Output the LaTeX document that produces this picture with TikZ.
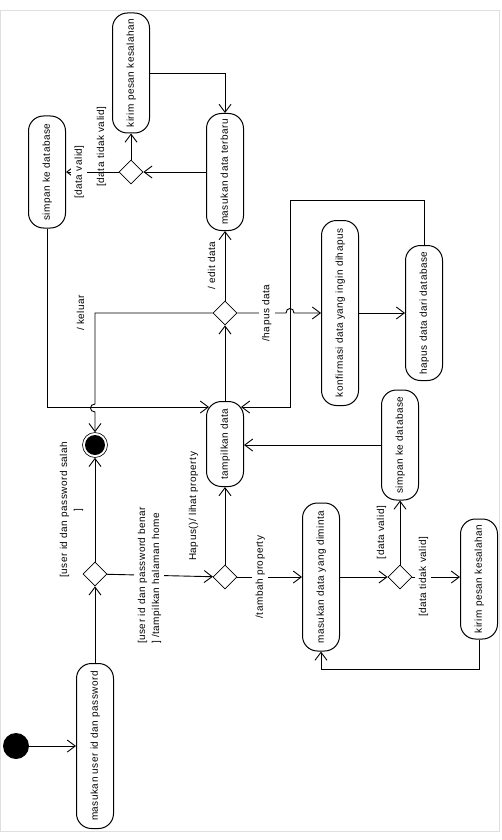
\documentclass[tikz,border=0pt]{standalone}
\usepackage{fontspec}
\setmainfont{Liberation Sans}[LetterSpace=5]
\usepackage{graphicx}
\usetikzlibrary{shapes.geometric, arrows.meta, calc}

\newcommand{\vtext}[1]{\rotatebox{90}{\begin{tabular}{@{}c@{}}#1\end{tabular}}}
\newcommand{\vtextl}[1]{\rotatebox{90}{\begin{tabular}{@{}l@{}}#1\end{tabular}}}

\begin{document}
\begin{tikzpicture}[x=1pt, y=-1pt, font=\fontsize{10}{14}\selectfont]
    % Styles
    \tikzstyle{act} = [rectangle, draw, line width=1pt, rounded corners=15pt, minimum width=37pt, inner sep=0pt]
    \tikzstyle{decision} = [diamond, draw, line width=0.8pt, minimum width=24pt, minimum height=24pt, inner sep=0pt]
    \tikzstyle{flow} = [draw, line width=0.9pt, -{Straight Barb[length=8pt,width=12pt]}]
    \tikzstyle{guard} = [fill=white, inner sep=1pt]

    \useasboundingbox (0,0) rectangle (501,840);
    \draw [gray!25, line width=0.6pt] (0,10) rectangle (499,831);

    % --- LOGIN ---
    \node [circle, fill=black, minimum size=26pt, inner sep=0pt] (start) at (16,746) {};
    \node [act, minimum height=165pt] (login) at (95,746) {\vtext{masukan user id dan password}};
    \node [decision] (cek) at (95,574) {};
    \node [circle, draw, line width=0.6pt, minimum size=25pt, inner sep=0pt] (stop) at (95,445) {};
    \fill (stop.center) circle (10pt);

    % --- MENU ---
    \node [act, minimum height=85pt] (tampil) at (225,444) {\vtext{tampilkan data}};
    \node [decision] (pilih) at (225,577) {};
    \node [decision] (kelola) at (225,313) {};
    \node [act, minimum height=117pt] (edit) at (225,172) {\vtext{masukan data terbaru}};

    % --- TAMBAH PROPERTY ---
    \node [act, minimum height=148pt] (minta) at (321,577) {\vtext{masukan data yang diminta}};
    \node [decision] (cekTambah) at (400,577) {};
    \node [act, minimum height=110pt] (simpanB) at (400,445) {\vtext{simpan ke database}};
    \node [act, minimum height=120pt] (errB) at (479,579) {\vtext{kirim pesan kesalahan}};

    % --- EDIT DATA ---
    \node [decision] (cekEdit) at (131,172) {};
    \node [act, minimum height=112pt] (simpanA) at (47,172) {\vtext{simpan ke database}};
    \node [act, minimum height=120pt] (errA) at (131,73) {\vtext{kirim pesan kesalahan}};

    % --- HAPUS DATA ---
    \node [act, minimum height=185pt] (konfirmasi) at (340,313) {\vtext{konfirmasi data yang ingin dihapus}};
    \node [act, minimum height=135pt] (hapus) at (424,313) {\vtext{hapus data dari database}};

    % crossings and entry points
    \coordinate (hopA) at (95,408);
    \coordinate (hopB) at (290,313);
    \coordinate (inL) at ([xshift=3pt,yshift=-6pt]tampil.north west);
    \coordinate (inR) at ([xshift=-3pt,yshift=-6pt]tampil.north east);

    % --- CONNECTIONS ---
    \path [flow] (start) -- (login);
    \path [flow] (login) -- (cek);
    \path [flow] (cek) -- node[left=6pt] {\vtext{[user id dan password salah\\]}} (stop);
    \path [flow] (cek) -- node[guard, pos=0.4] {\vtextl{[user id dan password benar\\] /tampilkan halaman home}} (pilih);
    \path [flow] (pilih) -- node[pos=0, anchor=south east, xshift=-21pt] {\vtext{Hapus()/ lihat property}} (tampil);
    \path [flow] (pilih) -- node[guard, pos=0.35] {\vtext{/tambah property}} (minta);
    \path [flow] (minta) -- (cekTambah);
    \path [flow] (cekTambah) -- node[left=8pt] {\vtext{[data valid]}} (simpanB);
    \path [flow] (cekTambah.east) -- node[guard, pos=0.23] {\vtext{[data tidak valid]}} (cekTambah.east -| errB.west);
    \path [flow] (errB.south) -- ++(0,30) -| (minta.south);
    \path [flow] (simpanB.west) -- (simpanB.west -| tampil.east);

    % Menu choices
    \path [flow] (tampil) -- (kelola);
    \path [flow] (kelola) -- node[left=2pt] {\vtext{/ edit data}} (edit);
    \path [flow] (kelola.west) -| node[pos=0.5, left=3pt] {\vtext{/ keluar}} ([yshift=4pt]hopA) .. controls +(-6,0) and +(-6,0) .. ([yshift=-4pt]hopA) -- (stop.north);
    \path [flow] (kelola.east) -- node[guard, pos=0.6] {\vtext{/hapus data}} ([xshift=-4pt]hopB) .. controls +(0,-6) and +(0,-6) .. ([xshift=4pt]hopB) -- (konfirmasi.west);
    \path [flow] (konfirmasi) -- (hapus);
    \path [flow] (hapus.north) -- ++(0,-45) -| (hopB |- inR) -- (inR);

    % Edit flow
    \path [flow] (edit) -- (cekEdit);
    \path [flow] (cekEdit) -- node[guard, pos=0.75] {\vtext{[data valid]}} (simpanA);
    \path [flow] (cekEdit) -- node[left=19pt] {\vtext{[data tidak valid]}} (errA);
    \path [flow] (errA.east) -| (edit.north);
    \path [flow] (simpanA.south) |- (inL);

\end{tikzpicture}
\end{document}
